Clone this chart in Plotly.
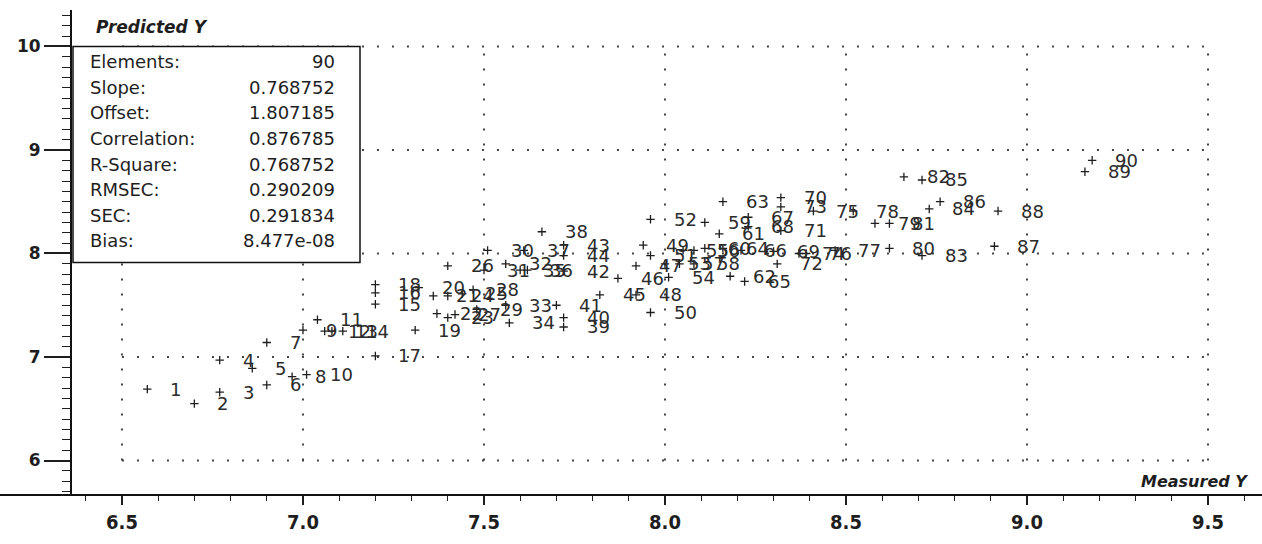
import plotly.graph_objects as go

# Sample numbers with measured and predicted values
samples = list(range(1, 91))
measured = [
    6.57, 6.70, 6.77, 6.77, 6.86, 6.90, 6.90, 6.97, 7.00, 7.01,
    7.04, 7.06, 7.08, 7.11, 7.20, 7.20, 7.20, 7.20, 7.31, 7.32,
    7.36, 7.37, 7.40, 7.40, 7.44, 7.40, 7.42, 7.47, 7.48, 7.51,
    7.50, 7.56, 7.56, 7.57, 7.60, 7.62, 7.61, 7.66, 7.72, 7.72,
    7.70, 7.72, 7.72, 7.72, 7.82, 7.87, 7.92, 7.92, 7.94, 7.96,
    7.96, 7.96, 8.00, 8.01, 8.05, 8.08, 8.04, 8.08, 8.11, 8.11,
    8.15, 8.18, 8.16, 8.16, 8.22, 8.21, 8.23, 8.23, 8.30, 8.32,
    8.32, 8.31, 8.32, 8.37, 8.41, 8.39, 8.47, 8.52, 8.58, 8.62,
    8.62, 8.66, 8.71, 8.73, 8.71, 8.76, 8.91, 8.92, 9.16, 9.18,
]
predicted = [
    6.69, 6.55, 6.66, 6.97, 6.89, 6.73, 7.14, 6.81, 7.26, 6.83,
    7.36, 7.25, 7.25, 7.25, 7.51, 7.62, 7.01, 7.70, 7.26, 7.67,
    7.59, 7.42, 7.38, 7.59, 7.61, 7.88, 7.41, 7.65, 7.46, 8.03,
    7.84, 7.90, 7.50, 7.33, 7.84, 7.84, 8.03, 8.21, 7.29, 7.38,
    7.50, 7.83, 8.08, 7.98, 7.60, 7.76, 7.88, 7.60, 8.08, 7.43,
    7.98, 8.33, 7.90, 7.77, 8.03, 8.03, 7.90, 7.90, 8.30, 8.05,
    8.19, 7.78, 8.50, 8.05, 7.73, 8.03, 8.35, 8.26, 8.02, 8.54,
    8.22, 7.90, 8.45, 8.00, 8.41, 8.00, 8.03, 8.41, 8.29, 8.05,
    8.29, 8.74, 7.98, 8.43, 8.71, 8.50, 8.07, 8.41, 8.79, 8.90,
]

stat_names = ["Elements:", "Slope:", "Offset:", "Correlation:", "R-Square:",
              "RMSEC:", "SEC:", "Bias:"]
stat_values = ["90", "0.768752", "1.807185", "0.876785", "0.768752",
               "0.290209", "0.291834", "8.477e-08"]

x_ticks = [6.5, 7.0, 7.5, 8.0, 8.5, 9.0, 9.5]
y_ticks = [6, 7, 8, 9, 10]

W, H = 1262, 544
ML, MR, MT, MB = 72, 12, 10, 44
PW, PH = W - ML - MR, H - MT - MB


def px(p):
    return (p - ML) / PW


def py(q):
    return (H - MB - q) / PH


INK = "#1e1e1e"
FONT = "DejaVu Sans, Verdana, sans-serif"
FONT_C = "DejaVu Sans Condensed, DejaVu Sans, sans-serif"

fig = go.Figure()

fig.add_trace(go.Scatter(
    x=measured, y=predicted, mode="markers",
    marker=dict(symbol="cross-thin", size=6, line=dict(width=1.3, color=INK)),
    hoverinfo="skip", showlegend=False,
))

# Sample number next to each point
annotations = []
for s, xv, yv in zip(samples, measured, predicted):
    annotations.append(dict(
        x=xv, y=yv, xref="x", yref="y", text=str(s), showarrow=False,
        xanchor="left", yanchor="middle", xshift=21,
        font=dict(family=FONT, size=18, color="#2b2b2b"),
    ))

# Dotted grid restricted to the tick span
shapes = []
dot = dict(color="#444444", width=2, dash="2px,13px")
for xv in x_ticks:
    shapes.append(dict(type="line", xref="x", yref="y", x0=xv, x1=xv,
                       y0=y_ticks[0], y1=y_ticks[-1], line=dot, layer="below"))
for yv in y_ticks:
    shapes.append(dict(type="line", xref="x", yref="y", x0=x_ticks[0], x1=x_ticks[-1],
                       y0=yv, y1=yv, line=dot, layer="below"))

# Full-width horizontal axis line
shapes.append(dict(type="line", xref="paper", yref="paper", x0=px(0), x1=px(W),
                   y0=0, y1=0, line=dict(color="#111111", width=2), layer="above"))

# Statistics box
shapes.append(dict(type="rect", xref="paper", yref="paper",
                   x0=px(73), x1=px(360), y0=py(265), y1=py(47),
                   fillcolor="white", line=dict(color="#111111", width=1.5),
                   layer="above"))
for i, (nm, val) in enumerate(zip(stat_names, stat_values)):
    yq = 62 + i * 25.9
    annotations.append(dict(x=px(88), y=py(yq), xref="paper", yref="paper",
                            text=nm, showarrow=False, xanchor="left", yanchor="middle",
                            font=dict(family=FONT, size=18, color=INK)))
    annotations.append(dict(x=px(337), y=py(yq), xref="paper", yref="paper",
                            text=val, showarrow=False, xanchor="right", yanchor="middle",
                            font=dict(family=FONT, size=18, color=INK)))

annotations.append(dict(x=px(94), y=py(27), xref="paper", yref="paper",
                        text="<b><i>Predicted Y</i></b>", showarrow=False,
                        xanchor="left", yanchor="middle",
                        font=dict(family=FONT, size=17, color=INK)))
annotations.append(dict(x=px(1250), y=py(486), xref="paper", yref="paper",
                        text="<b><i>Measured Y</i></b>", showarrow=False,
                        xanchor="right", yanchor="middle",
                        font=dict(family=FONT, size=16, color=INK)))

fig.update_layout(
    width=W, height=H,
    margin=dict(l=ML, r=MR, t=MT, b=MB, pad=0),
    paper_bgcolor="white", plot_bgcolor="white",
    shapes=shapes, annotations=annotations,
    xaxis=dict(
        range=[6.362, 9.616], tickvals=x_ticks, ticktext=[f"{v:.1f}" for v in x_ticks],
        showgrid=False, zeroline=False, showline=False,
        ticks="outside", ticklen=9, tickwidth=1.5, tickcolor=INK,
        tickfont=dict(family=FONT_C, size=20, color=INK, weight="bold"),
        minor=dict(dtick=0.1, tick0=6.5, ticks="outside", ticklen=5,
                   tickwidth=1, tickcolor=INK),
    ),
    yaxis=dict(
        range=[5.667, 10.352], tickvals=y_ticks, ticktext=[str(v) for v in y_ticks],
        showgrid=False, zeroline=False, showline=True, linecolor="#111111", linewidth=2,
        ticks="outside", ticklen=26, tickwidth=1.5, tickcolor=INK,
        tickfont=dict(family=FONT, size=17, color=INK, weight="bold"),
        minor=dict(dtick=0.1, tick0=6, ticks="outside", ticklen=8,
                   tickwidth=1, tickcolor=INK),
    ),
)

fig.write_html("out.html")
